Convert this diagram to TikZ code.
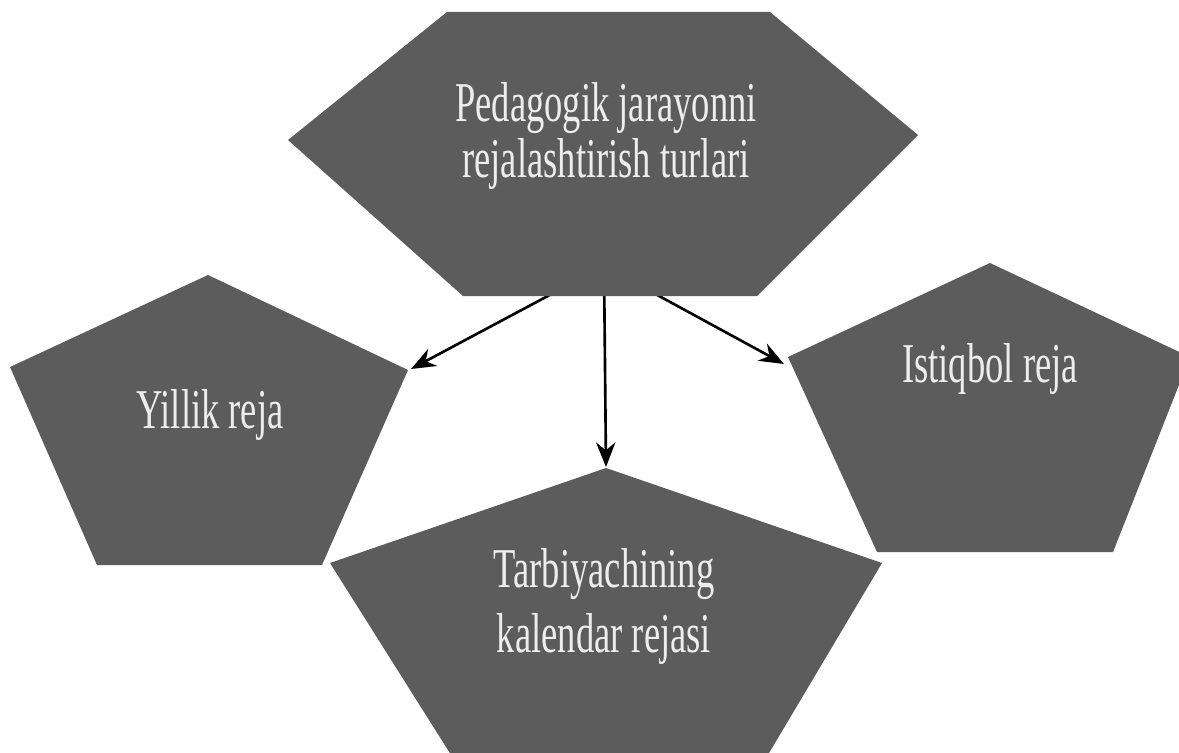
\documentclass[tikz,border=0pt]{standalone}
\usepackage{fontspec}
\setmainfont{Liberation Serif}[FakeStretch=0.65]
\usetikzlibrary{arrows.meta}
\definecolor{slate}{gray}{0.36}
\definecolor{chalk}{gray}{0.93}
\tikzset{
  plate/.style={fill=slate},
  caption/.style={text=chalk, align=center, inner sep=0pt,
    font=\fontsize{32}{32}\selectfont},
  link/.style={draw=black, line width=1.5pt, -{Stealth[length=14pt,width=11pt]}}
}
\begin{document}
\begin{tikzpicture}[x=0.02cm, y=-0.02cm]
    \clip (0,0) rectangle (1179,753);

    % strelkalar
    \coordinate (hub) at (604,266);
    \coordinate (yearly-tip) at (411,369);
    \coordinate (calendar-tip) at (606,467);
    \coordinate (outlook-tip) at (784,364);
    \draw[link] (hub) -- (yearly-tip);
    \draw[link] (hub) -- (calendar-tip);
    \draw[link] (hub) -- (outlook-tip);

    % oltiburchak
    \fill[plate] (288,140) -- (447,12) -- (770,12) -- (918,135)
        -- (757,296) -- (463,296) -- cycle;
    \node[caption] (plan) at (606,136) {Pedagogik jarayonni\\rejalashtirish turlari};

    % chap beshburchak
    \fill[plate] (208,275) -- (408,370) -- (322,565) -- (97,565)
        -- (10,367) -- cycle;
    \node[caption] (yearly) at (210,415) {Yillik reja};

    % o'ng beshburchak
    \fill[plate] (990,263) -- (1190,357) -- (1113,552) -- (877,552)
        -- (788,357) -- cycle;
    \node[caption] (outlook) at (990,369) {Istiqbol reja};

    % pastki beshburchak
    \fill[plate] (606,468) -- (882,563) -- (750,785) -- (470,785)
        -- (330,563) -- cycle;
    \node[caption, font=\fontsize{32}{37}\selectfont] (calendar) at (604,606)
        {Tarbiyachining\\kalendar rejasi};
\end{tikzpicture}
\end{document}
